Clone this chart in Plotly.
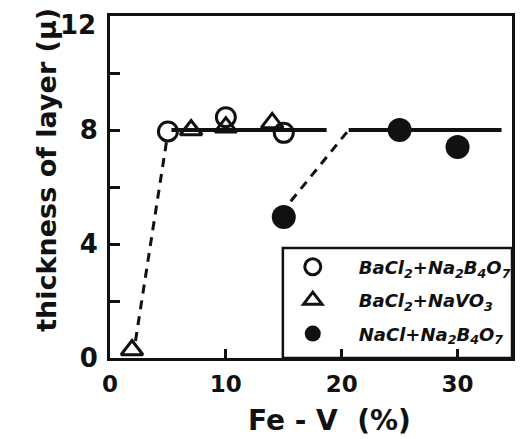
import plotly.graph_objects as go

# --- data ---
bacl2_na2b4o7_x = [5, 10, 15]
bacl2_na2b4o7_y = [7.95, 8.45, 7.9]

bacl2_navo3_x = [1.9, 7, 10, 14]
bacl2_navo3_y = [0.28, 8.0, 8.1, 8.25]

nacl_na2b4o7_x = [15, 25, 30]
nacl_na2b4o7_y = [4.95, 8.0, 7.4]

# guide lines drawn in the figure
guide1_dash_x = [2.2, 4.9]
guide1_dash_y = [0.6, 7.65]
guide1_solid_x = [5.3, 18.7]
guide1_solid_y = [8.0, 8.0]
guide2_dash_x = [15.6, 20.6]
guide2_dash_y = [5.5, 8.0]
guide2_solid_x = [20.6, 33.8]
guide2_solid_y = [8.0, 8.0]

legend_names = [
    "BaCl<sub>2</sub>+Na<sub>2</sub>B<sub>4</sub>O<sub>7</sub>",
    "BaCl<sub>2</sub>+NaVO<sub>3</sub>",
    "NaCl+Na<sub>2</sub>B<sub>4</sub>O<sub>7</sub>",
]

x_tick_vals = [0, 10, 20, 30]
y_tick_vals = [0, 4, 8]
y_top_value = 12
y_minor_vals = [2, 6, 10, 12]

x_title = "Fe - V  (%)"
y_title = "thickness of layer (μ)"

FONT = "DejaVu Sans"
BLACK = "#111111"

fig = go.Figure()

fig.add_trace(go.Scatter(x=guide1_dash_x, y=guide1_dash_y, mode="lines",
                         line=dict(color=BLACK, width=3, dash="9px,7px"), showlegend=False, hoverinfo="skip"))
fig.add_trace(go.Scatter(x=guide1_solid_x, y=guide1_solid_y, mode="lines",
                         line=dict(color=BLACK, width=4), showlegend=False, hoverinfo="skip"))
fig.add_trace(go.Scatter(x=guide2_dash_x, y=guide2_dash_y, mode="lines",
                         line=dict(color=BLACK, width=3, dash="9px,7px"), showlegend=False, hoverinfo="skip"))
fig.add_trace(go.Scatter(x=guide2_solid_x, y=guide2_solid_y, mode="lines",
                         line=dict(color=BLACK, width=4), showlegend=False, hoverinfo="skip"))

fig.add_trace(go.Scatter(
    x=bacl2_na2b4o7_x, y=bacl2_na2b4o7_y, mode="markers", name=legend_names[0], legendgroup="a",
    marker=dict(symbol="circle-open", size=19, color=BLACK, line=dict(width=3, color=BLACK)),
    cliponaxis=False))
fig.add_trace(go.Scatter(
    x=bacl2_navo3_x, y=bacl2_navo3_y, mode="markers", name=legend_names[1], legendgroup="b",
    marker=dict(symbol="triangle-up-open", size=19, color=BLACK, line=dict(width=3, color=BLACK)),
    cliponaxis=False))
fig.add_trace(go.Scatter(
    x=nacl_na2b4o7_x, y=nacl_na2b4o7_y, mode="markers", name=legend_names[2], legendgroup="c",
    marker=dict(symbol="circle", size=24, color=BLACK),
    cliponaxis=False))

# legend frame
fig.add_shape(type="rect", xref="paper", yref="paper", x0=0.43, x1=1.0, y0=0.0, y1=0.322,
              line=dict(color=BLACK, width=2.5), fillcolor="white", layer="below")

# top y tick label (sits slightly below the frame corner in the original)
fig.add_annotation(text=str(y_top_value), xref="paper", yref="y", x=-0.031, y=y_top_value,
                   yshift=-9, showarrow=False, xanchor="right", yanchor="middle",
                   font=dict(family=FONT, size=26, color=BLACK, weight="bold"))

# axis titles
fig.add_annotation(text=y_title, xref="paper", yref="paper", x=-0.157, y=0.55,
                   textangle=-90, showarrow=False, xanchor="center", yanchor="middle",
                   font=dict(family=FONT, size=27, color=BLACK, weight="bold"))
fig.add_annotation(text=x_title, xref="paper", yref="paper", x=0.547, y=-0.184,
                   showarrow=False, xanchor="center", yanchor="middle",
                   font=dict(family=FONT, size=28, color=BLACK, weight="bold"))

# the page body adds an 8px offset, so the figure is drawn 8px smaller with the
# left/top margins reduced accordingly
fig.update_layout(
    width=521, height=431,
    margin=dict(l=102, r=17, t=8, b=81),
    paper_bgcolor="white", plot_bgcolor="white",
    font=dict(family=FONT, color=BLACK),
    showlegend=True,
    legend=dict(x=0.39, y=0.32, xanchor="left", yanchor="top",
                bgcolor="rgba(0,0,0,0)", borderwidth=0,
                font=dict(family=FONT, size=18, color=BLACK, weight="bold", style="italic"),
                itemwidth=82, tracegroupgap=7),
    xaxis=dict(range=[0, 34.7], tickvals=x_tick_vals, ticktext=[str(v) for v in x_tick_vals],
               ticks="inside", ticklen=9, tickwidth=2.5, tickcolor=BLACK,
               showline=True, linewidth=3, linecolor=BLACK, mirror=True,
               showgrid=False, zeroline=False, automargin=False,
               tickfont=dict(family=FONT, size=23, color=BLACK, weight="bold"),
               ticklabelstandoff=3, ticklabeloverflow="allow"),
    yaxis=dict(range=[0, 12], tickvals=y_tick_vals, ticktext=[str(v) for v in y_tick_vals],
               ticks="inside", ticklen=10, tickwidth=2.5, tickcolor=BLACK,
               minor=dict(tickvals=y_minor_vals, ticks="inside", ticklen=10, tickwidth=2.5, tickcolor=BLACK),
               showline=True, linewidth=3, linecolor=BLACK, mirror=True,
               showgrid=False, zeroline=False, automargin=False,
               tickfont=dict(family=FONT, size=26, color=BLACK, weight="bold"),
               ticklabelstandoff=4, ticklabeloverflow="allow"),
)

fig.write_html("out.html")
